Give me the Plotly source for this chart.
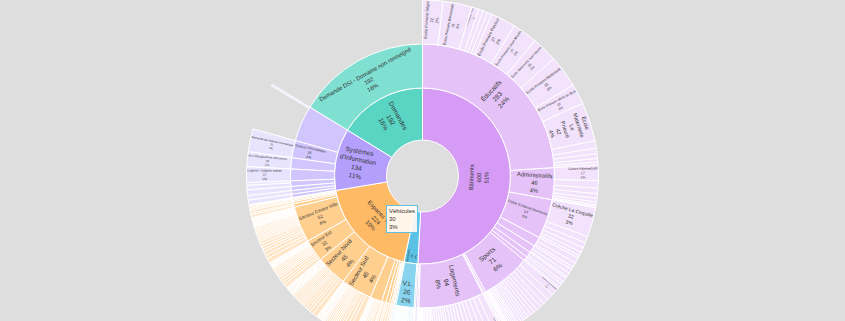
import plotly.graph_objects as go

BG = "#dedede"

# ---------------- data (listed clockwise from 12 o'clock) ----------------
TOP_LABELS = ["Bâtiments", "Véhicules", "Espaces Verts", "Systèmes<br>d'Information", "Demandes"]
TOP_VALUES = [600, 30, 224, 134, 192]
TOP_COLORS = ["#d59bf5", "#5bc2e5", "#ffba66", "#b4a0fc", "#5ad5c4"]
MID_COLORS = ["#e5c3f9", "#88d3ed", "#ffcf8f", "#d0c5fd", "#7fdfd1"]
OUT_COLORS = ["#f2e2fc", "#d3eef8", "#ffe5c5", "#e9e4fe", "#c9f3ec"]

L2 = {
    "Bâtiments": (["Éducatifs", "Administratifs", "Petite Enfance/Jeunesse", "Sociaux", "Techniques",
                   "Culturels", "Associatifs", "Sports", "Cimetières", "Églises", "Logements",
                   "Parkings", "Divers"],
                  [283, 46, 57, 14, 11, 8, 6, 71, 3, 2, 94, 2, 3]),
    "Véhicules": (["Engins", "V.L.", "P.L."], [2, 26, 2]),
    "Espaces Verts": (["Fleurissement", "Aires de jeux", "Mobilier urbain", "Élagage", "Arrosage",
                       "Propreté", "Serres", "Secteur Sud", "Secteur Nord", "Secteur Est",
                       "Secteur Centre Ville", "Secteur Ouest", "Cimetières", "Stades",
                       "Terrains de sport", "Jardins familiaux", "Divers"],
                      [1, 2, 2, 3, 5, 6, 17, 45, 45, 32, 52, 5, 3, 2, 2, 1, 1]),
    "Systèmes<br>d'Information": (["Messagerie", "Impression", "Réseau", "Téléphonie", "Logiciels",
                                   "Assistance", "Gestion Informatique", "Demandes d'intervention SI"],
                                  [5, 5, 6, 8, 17, 16, 25, 52]),
    "Demandes": (["Demande DSI - Domaine non renseigné"], [192]),
}
# second-level sectors whose label is not shown in the reference
HIDDEN_L2 = ["Demandes d'intervention SI"]

# leaves: (names, values); a name shown as a label, "" = unlabelled sector
LEAVES = {
    "Bâtiments/Éducatifs": (
        ["École Primaire Ségur", "École Primaire Brossolette", "École Élémentaire Voltaire", "", "", "",
         "École Primaire Pasteur", "École Primaire Jean Moulin", "École Maternelle Jean Moulin",
         "École Primaire Malbrouck", "École Primaire Mixte du Bois", "École<br>Maternelle<br>Le<br>Prieuré",
         "", "", "", "", ""],
        [22, 31, 8, 5, 5, 5, 27, 27, 28, 35, 22, 42, 8, 6, 5, 4, 3]),
    "Bâtiments/Administratifs": (["Centre Administratif", "", "", "", "", "", "", ""],
                                 [17, 8, 6, 5, 4, 3, 2, 1]),
    "Bâtiments/Petite Enfance/Jeunesse": (["Crèche La Coquille", "", "", "", "", ""],
                                          [32, 7, 6, 5, 4, 3]),
    "Bâtiments/Sociaux": (["", "", ""], [6, 5, 3]),
    "Bâtiments/Techniques": (["", "", ""], [5, 4, 2]),
    "Bâtiments/Culturels": (["", ""], [5, 3]),
    "Bâtiments/Associatifs": (["", ""], [4, 2]),
    "Bâtiments/Sports": (["Gymnase Jean Moulin"] + [""] * 21,
                         [9, 7, 6, 5, 5, 4, 4, 4, 3, 3, 3, 3, 2, 2, 2, 2, 2, 1, 1, 1, 1, 1]),
    "Bâtiments/Cimetières": (["", ""], [2, 1]),
    "Bâtiments/Églises": ([""], [2]),
    "Bâtiments/Logements": (["Résidence Les Tilleuls"] + [""] * 28,
                            [8, 7, 6, 6, 5, 5, 5, 4, 4, 4, 4, 3, 3, 3, 3, 3, 3,
                             2, 2, 2, 2, 2, 2, 1, 1, 1, 1, 1, 1]),
    "Bâtiments/Parkings": (["", ""], [1, 1]),
    "Bâtiments/Divers": ([""], [3]),
    "Véhicules/Engins": (["", ""], [1, 1]),
    "Véhicules/V.L.": ([""] * 22, [2, 2, 2, 2, 1, 1, 1, 1, 1, 1, 1, 1, 1, 1, 1, 1, 1, 1, 1, 1, 1, 1]),
    "Véhicules/P.L.": ([""], [2]),
    "Espaces Verts/Fleurissement": ([""], [1]),
    "Espaces Verts/Aires de jeux": ([""], [2]),
    "Espaces Verts/Mobilier urbain": ([""], [2]),
    "Espaces Verts/Élagage": ([""], [3]),
    "Espaces Verts/Arrosage": (["", ""], [3, 2]),
    "Espaces Verts/Propreté": (["", "", ""], [3, 2, 1]),
    "Espaces Verts/Serres": ([""] * 11, [3, 2, 2, 2, 2, 1, 1, 1, 1, 1, 1]),
    "Espaces Verts/Secteur Sud": ([""] * 22, [6, 4, 4, 3, 3, 2, 2, 2, 2, 2, 2, 2,
                                              1, 1, 1, 1, 1, 1, 1, 1, 1, 1]),
    "Espaces Verts/Secteur Nord": ([""] * 24, [5, 4, 3, 3, 3, 2, 2, 2, 2, 2, 2, 2, 2,
                                               1, 1, 1, 1, 1, 1, 1, 1, 1, 1, 1]),
    "Espaces Verts/Secteur Est": ([""] * 17, [4, 3, 3, 3, 2, 2, 2, 2, 2, 2, 1, 1, 1, 1, 1, 1, 1]),
    "Espaces Verts/Secteur Centre Ville": ([""] * 26, [5, 4, 4, 3, 3, 3, 3, 2, 2, 2, 2, 2, 2, 2, 2,
                                                       1, 1, 1, 1, 1, 1, 1, 1, 1, 1, 1]),
    "Espaces Verts/Secteur Ouest": (["", ""], [3, 2]),
    "Espaces Verts/Cimetières": ([""], [3]),
    "Espaces Verts/Stades": ([""], [2]),
    "Espaces Verts/Terrains de sport": ([""], [2]),
    "Espaces Verts/Jardins familiaux": ([""], [1]),
    "Espaces Verts/Divers": ([""], [1]),
    "Systèmes<br>d'Information/Messagerie": ([""], [5]),
    "Systèmes<br>d'Information/Impression": ([""], [5]),
    "Systèmes<br>d'Information/Réseau": ([""], [6]),
    "Systèmes<br>d'Information/Téléphonie": (["", ""], [5, 3]),
    "Systèmes<br>d'Information/Logiciels": (["Logiciel / support métier"], [17]),
    "Systèmes<br>d'Information/Assistance": (["Accompagnement utilisateurs"], [16]),
    "Systèmes<br>d'Information/Gestion Informatique": (["Demande de matériel informatique"], [25]),
    "Systèmes<br>d'Information/Demandes d'intervention SI": ([""], [2]),
}

# label layout style: invisible padding steering the label orientation
LABEL_PAD = {"Espaces Verts": 2.5, "Demandes": 2.5, "Éducatifs": 2.5, "Sports": 2.5, "Logements": 2.5}
WIDE_PAD = {"Bâtiments": 3.0}   # width-only padding (keeps full text height)

TOTAL = sum(TOP_VALUES)
CCW = True  # plotly sunburst lays slices counter-clockwise
NBSP = "\u00a0"


def order(seq):
    return list(reversed(list(seq))) if CCW else list(seq)


def label_text(label, value):
    lines = label.split("<br>") + [str(value), f"{value / TOTAL:.0%}"]
    if label in WIDE_PAD:
        side = NBSP * int(round(WIDE_PAD[label] * len(lines[0])))
        lines[0] = side + lines[0] + side
        return "<br>".join(lines)
    factor = LABEL_PAD.get(label, 0)
    if not factor:
        return "<br>".join(lines)
    pad = NBSP * int(round(factor * max(len(s) for s in lines)))
    return "<br>".join([pad] + lines + [pad])


ids, labels, parents, values, colors, texts, lw, sizes = [], [], [], [], [], [], [], []


def add(id_, label, parent, value, color, text, width=1, size=12):
    ids.append(id_)
    labels.append(label)
    parents.append(parent)
    values.append(value)
    colors.append(color)
    lw.append(width)
    texts.append(text)
    sizes.append(size)


# transparent explicit root (the hole) and transparent first ring (drawn by the pie below)
add("root", "", "", TOTAL, "rgba(0,0,0,0)", "", 0)
for i in order(range(len(TOP_LABELS))):
    top = TOP_LABELS[i]
    add(top, top, "root", TOP_VALUES[i], "rgba(0,0,0,0)", label_text(top, TOP_VALUES[i]), 0, 6.5)
    names2, vals2 = L2[top]
    for j in order(range(len(names2))):
        n2, v2 = names2[j], vals2[j]
        id2 = f"{top}/{n2}"
        show2 = v2 >= 20 and n2 not in HIDDEN_L2
        add(id2, n2, top, v2, MID_COLORS[i], label_text(n2, v2) if show2 else "", 1, 6.5)
        if id2 in LEAVES:
            ln, lv = LEAVES[id2]
            for k in order(range(len(lv))):
                name = ln[k] if ln[k] else f"Site {k + 1}"
                add(f"{id2}/{k}", name, id2, lv[k], OUT_COLORS[i],
                    label_text(name, lv[k]) if ln[k] else "", 1, 12)

W, H = 845, 352
R1 = min(W, H) / 4      # outer radius of the first ring (one sunburst band)
HOLE_R = 36             # hole radius

# first ring as a pie with a hole (smaller hole than the sunburst root band)
fig = go.Figure(go.Pie(
    labels=TOP_LABELS, values=TOP_VALUES, sort=False, direction="clockwise", rotation=0,
    hole=HOLE_R / R1, textinfo="none", hoverinfo="skip", showlegend=False,
    marker=dict(colors=TOP_COLORS, line=dict(color="white", width=1)),
    domain=dict(x=[0.5 - R1 / W, 0.5 + R1 / W], y=[0.5 - R1 / H, 0.5 + R1 / H]),
))

fig.add_trace(go.Sunburst(
    ids=ids, labels=labels, parents=parents, values=values,
    branchvalues="total", sort=False, rotation=90,
    text=texts, textinfo="text",
    marker=dict(colors=colors, line=dict(color="white", width=lw)),
    leaf=dict(opacity=1),
    textfont=dict(family="Liberation Sans, Arial", size=sizes, color="#333333"),
    insidetextorientation="auto",
    hoverinfo="skip",
))

fig.add_annotation(
    x=386 / W, y=1 - 205 / H, xref="paper", yref="paper",
    xanchor="left", yanchor="top", showarrow=False, align="left",
    text="Véhicules<br>30<br>3%",
    font=dict(family="Liberation Sans, Arial", size=6, color="#333333"),
    bgcolor="rgba(255,250,244,0.92)", bordercolor="#5bc2e5", borderwidth=1, borderpad=2,
)

fig.update_layout(
    width=W, height=H, margin=dict(l=0, r=0, t=0, b=0),
    paper_bgcolor=BG, plot_bgcolor=BG, showlegend=False,
)

fig.write_html("out.html", config={"displayModeBar": False})
